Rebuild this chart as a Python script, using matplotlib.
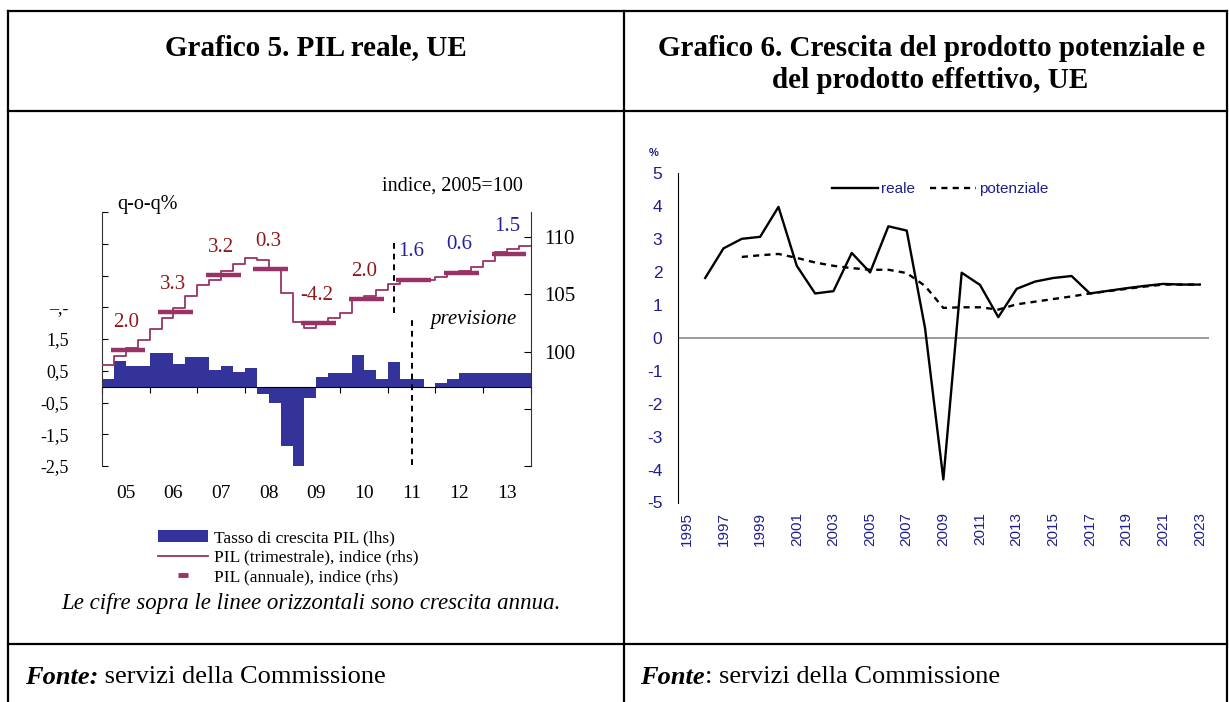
import numpy as np
import matplotlib.pyplot as plt
from matplotlib.lines import Line2D
from matplotlib.patches import Patch

# ---- Grafico 5: PIL reale, UE (trimestrale 2005-2013) ----
anni5 = np.arange(2005, 2014)
anni5_lab = ['05', '06', '07', '08', '09', '10', '11', '12', '13']
crescita_tr = [0.23, 0.81, 0.65, 0.65,
               1.06, 1.06, 0.71, 0.94,
               0.94, 0.52, 0.65, 0.46,
               0.59, -0.24, -0.52, -1.86,
               -2.5, -0.37, 0.30, 0.43,
               0.43, 1.00, 0.52, 0.23,
               0.78, 0.23, 0.23, 0.0,
               0.10, 0.23, 0.43, 0.43,
               0.43, 0.43, 0.43, 0.43]
indice_tr = [98.8, 99.6, 100.3, 101.0,
             102.0, 102.9, 103.8, 104.85,
             105.8, 106.3, 107.05, 107.65,
             108.2, 108.0, 107.2, 105.1,
             102.6, 102.1, 102.4, 102.9,
             103.4, 104.5, 104.85, 105.4,
             105.9, 106.3, 106.3, 106.3,
             106.5, 106.8, 107.0, 107.35,
             107.9, 108.7, 109.0, 109.2]
indice_an = [100.1, 103.45, 106.7, 107.2, 102.5, 104.6, 106.3, 106.9, 108.5]
crescita_an = ['2.0', '3.3', '3.2', '0.3', '-4.2', '2.0', '1.6', '0.6', '1.5']
previsione = [False] * 6 + [True] * 3
lhs_ticks = [-2.5, -1.5, -0.5, 0.5, 1.5, 2.5, 3.5, 4.5, 5.5]
lhs_lab = ['-2,5', '-1,5', '-0,5', '0,5', '1,5', '\u2013,-', '', '', '']
rhs_ticks = [90, 95, 100, 105, 110]
rhs_lab = ['', '', '100', '105', '110']
# linee tratteggiate (inizio previsione), in unita lhs
prev_x = [2011.12, 2011.5]
prev_y = [(2.33, 4.6), (-2.46, 2.24)]

# ---- Grafico 6: crescita potenziale ed effettiva, UE ----
anni6 = np.arange(1995, 2024)
reale_anni = np.arange(1996, 2024)
reale = [1.82, 2.72, 3.01, 3.07, 3.98, 2.19, 1.35, 1.42, 2.58, 1.99,
         3.39, 3.26, 0.3, -4.3, 1.98, 1.61, 0.63, 1.49, 1.71, 1.82,
         1.88, 1.35, 1.43, 1.51, 1.58, 1.64, 1.62, 1.62]
pot_anni = np.arange(1998, 2024)
potenziale = [2.46, 2.51, 2.55, 2.43, 2.29, 2.19, 2.12, 2.07, 2.07, 1.97,
              1.58, 0.91, 0.93, 0.93, 0.86, 1.02, 1.10, 1.18, 1.26, 1.35,
              1.42, 1.49, 1.56, 1.62, 1.62, 1.62]

W, H = 1229, 702
SERIF = 'Liberation Serif'
SANS = 'Liberation Sans'
BLU = '#333399'
PRUGNA = '#993366'
ROSSO = '#8B1A1A'
BLU_T = '#22229A'
NAVY = '#1F1F8C'


def fx(px):
    return px / W


def fy(py):
    return 1 - py / H


fig = plt.figure(figsize=(W / 100, H / 100), dpi=100)

# ---------- table frame ----------
frame = [((8, 11), (1227, 11)), ((8, 111), (1227, 111)), ((8, 644), (1227, 644)),
         ((8, 11), (8, 702)), ((624, 11), (624, 702)), ((1227, 11), (1227, 702))]
for (x0, y0), (x1, y1) in frame:
    fig.add_artist(Line2D([fx(x0), fx(x1)], [fy(y0), fy(y1)], color='black',
                          lw=1.6, transform=fig.transFigure))

fig.text(fx(316), fy(48), 'Grafico 5. PIL reale, UE', ha='center', va='center',
         family=SERIF, weight='bold', size=21)
fig.text(fx(932), fy(48), 'Grafico 6. Crescita del prodotto potenziale e',
         ha='center', va='center', family=SERIF, weight='bold', size=21)
fig.text(fx(930), fy(81), 'del prodotto effettivo, UE', ha='center', va='center',
         family=SERIF, weight='bold', size=21)

t1 = fig.text(fx(25), fy(677), 'Fonte:', ha='left', va='center', family=SERIF,
              weight='bold', style='italic', size=19)
t2 = fig.text(fx(640), fy(677), 'Fonte', ha='left', va='center', family=SERIF,
              weight='bold', style='italic', size=19)

# ---------- Grafico 5 ----------
ax1 = fig.add_axes([fx(102), fy(466), (530.7 - 102) / W, (466 - 212) / H])
xq = 2005 + np.arange(len(crescita_tr)) / 4
ax1.bar(xq, crescita_tr, width=0.25, align='edge', color=BLU, lw=0, zorder=2)
ax1.set_xlim(2005, 2014)
ax1.set_ylim(-2.5, 5.5)
for s in ['top', 'right']:
    ax1.spines[s].set_visible(False)
ax1.spines['bottom'].set_position(('data', 0))
ax1.spines['left'].set_color('#333333')
ax1.set_yticks(lhs_ticks)
ax1.set_yticklabels(lhs_lab, family=SERIF, size=13)
ax1.tick_params(axis='y', direction='in', length=4, pad=24)
ax1.set_xticks(np.arange(2005, 2015))
ax1.tick_params(axis='x', direction='out', length=4, labelbottom=False)
for a, lab in zip(anni5, anni5_lab):
    ax1.text(a + 0.5, -0.11, lab, transform=ax1.get_xaxis_transform(),
             ha='center', va='center', family=SERIF, size=14)
for x, (y0, y1) in zip(prev_x, prev_y):
    ax1.plot([x, x], [y0, y1], color='black', lw=1.4, ls=(0, (3, 2.5)), zorder=4)
ax1.text(0.867, 0.575, 'previsione', transform=ax1.transAxes, ha='center',
         va='center', family=SERIF, style='italic', size=15)
ax1.text(0.982, 1.102, 'indice, 2005=100', transform=ax1.transAxes, ha='right',
         va='center', family=SERIF, size=14.5)
ax1.text(0.035, 1.028, 'q-o-q%', transform=ax1.transAxes, ha='left',
         va='center', family=SERIF, size=14.5)

ax2 = ax1.twinx()
ax2.step(np.append(xq, 2014), np.append(indice_tr, indice_tr[-1]), where='post',
         color=PRUGNA, lw=1.3, zorder=3)
ax2.hlines(indice_an, anni5 + 0.18, anni5 + 0.91, colors=PRUGNA, lw=3.2, zorder=3)
for a, v, lab, p in zip(anni5, indice_an, crescita_an, previsione):
    ax2.annotate(lab, (a + 0.5, v), xytext=(0, 20), textcoords='offset points',
                 ha='center', va='center', family=SERIF, size=15,
                 color=BLU_T if p else ROSSO)
ax2.set_ylim(90, 112.2)
for s in ['top', 'left', 'bottom']:
    ax2.spines[s].set_visible(False)
ax2.spines['right'].set_color('#333333')
ax2.set_yticks(rhs_ticks)
ax2.set_yticklabels(rhs_lab, family=SERIF, size=15)
ax2.tick_params(axis='y', direction='in', length=5, pad=10)

handles = [Patch(color=BLU, lw=0),
           Line2D([], [], color=PRUGNA, lw=1.3),
           Line2D([], [], color=PRUGNA, marker='_', ms=7, mew=3.5, ls='none')]
labels = ['Tasso di crescita PIL (lhs)', 'PIL (trimestrale), indice (rhs)',
          'PIL (annuale), indice (rhs)']
fig.legend(handles, labels, loc='upper left', bbox_to_anchor=(fx(158), fy(530)),
           frameon=False, borderpad=0, borderaxespad=0, handlelength=2.9,
           handletextpad=0.3, labelspacing=0.2, prop={'family': SERIF, 'size': 12.5})
fig.text(fx(311), fy(604), 'Le cifre sopra le linee orizzontali sono crescita annua.',
         ha='center', va='center', family=SERIF, style='italic', size=16.5)

# ---------- Grafico 6 ----------
ax3 = fig.add_axes([fx(677.7), fy(502.5), (1209 - 677.7) / W, (502.5 - 173.3) / H])
ax3.axhline(0, color='#808080', lw=1.1, zorder=1)
ax3.plot(reale_anni, reale, color='black', lw=1.7, label='reale', zorder=3)
ax3.plot(pot_anni, potenziale, color='black', lw=1.7, ls=(0, (2.6, 2.2)),
         label='potenziale', zorder=2)
ax3.set_xlim(1994.5, 2023.5)
ax3.set_ylim(-5, 5)
for s in ['top', 'right', 'bottom']:
    ax3.spines[s].set_visible(False)
ax3.spines['left'].set_color('black')
ax3.set_yticks(np.arange(-5, 6))
ax3.set_yticklabels([str(v) for v in range(-5, 6)], family=SANS, size=12.5, color=NAVY)
ax3.tick_params(axis='y', length=0, pad=11)
ax3.set_xticks(anni6[::2])
ax3.set_xticklabels([str(a) for a in anni6[::2]], rotation=90, family=SANS,
                    size=11, color=NAVY)
ax3.tick_params(axis='x', length=0, pad=7)
ax3.text(-0.046, 1.063, '%', transform=ax3.transAxes, ha='center', va='center',
         family=SANS, size=8, weight='bold', color=NAVY)
ax3.legend(loc='center left', bbox_to_anchor=(0.29, 0.951), ncol=2, frameon=False,
           borderpad=0, borderaxespad=0, handlelength=3.0, handletextpad=0.2,
           columnspacing=1.0, labelcolor=NAVY, prop={'family': SANS, 'size': 11})

# footer continuations placed right after the bold-italic words
fig.canvas.draw()
r = fig.canvas.get_renderer()
e1 = t1.get_window_extent(r)
e2 = t2.get_window_extent(r)
fig.text(e1.x1 / W, fy(677), ' servizi della Commissione', family=SERIF, size=19,
         va='center', ha='left')
fig.text(e2.x1 / W, fy(677), ': servizi della Commissione', family=SERIF, size=19,
         va='center', ha='left')

fig.savefig('out.png', dpi=100)
